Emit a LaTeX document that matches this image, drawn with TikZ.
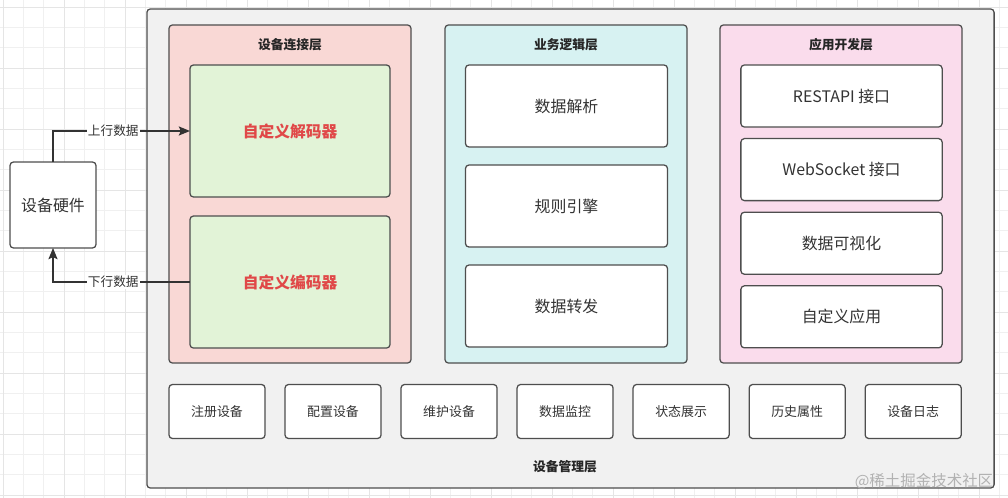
\documentclass[tikz,border=0pt]{standalone}
\usepackage{fontspec}
\setmainfont{Noto Sans CJK SC}
\usetikzlibrary{positioning,arrows.meta}

\definecolor{linegray}{HTML}{4E4E4E}
\definecolor{txtgray}{HTML}{333333}
\definecolor{mainfill}{HTML}{F1F1F1}
\definecolor{connfill}{HTML}{F9D8D5}
\definecolor{codecfill}{HTML}{E2F3D7}
\definecolor{bizfill}{HTML}{D7F2F2}
\definecolor{appfill}{HTML}{FADCEC}
\definecolor{redtxt}{HTML}{E04848}

\begin{document}
\begin{tikzpicture}[x=0.025cm, y=-0.025cm, line width=0.9pt,
    every node/.style={font=\fontsize{11.3}{13}\selectfont, text=txtgray},
    gridminor/.style={line width=0.4pt, black!6},
    gridmajor/.style={line width=0.5pt, black!10},
    box/.style={draw=linegray, rounded corners=2.5pt, inner sep=0pt, outer sep=0pt, fill=white},
    layer/.style={box, minimum width=6.05cm, minimum height=8.45cm},
    title/.style={font=\fontsize{9.1}{11}\selectfont\bfseries, text=black!85},
    codec/.style={box, fill=codecfill, minimum width=5cm, minimum height=3.3cm,
        font=\fontsize{11.2}{13}\selectfont\bfseries, text=redtxt},
    bizbox/.style={box, minimum width=5.05cm, minimum height=2.05cm},
    appbox/.style={box, minimum width=5.03cm, minimum height=1.55cm},
    mgmtbox/.style={box, minimum width=2.4cm, minimum height=1.35cm, font=\fontsize{9.2}{11}\selectfont},
    flowlabel/.style={fill=white, inner sep=1pt, font=\fontsize{9}{11}\selectfont},
    flow/.style={draw=black!80, -{Stealth[length=8pt,width=6.5pt,inset=1.5pt]}}]
  \useasboundingbox (0,0) rectangle (1008,498);

  % background grid
  \foreach \g in {0,...,49} {
    \draw[gridminor] ({3+20.33*\g},0) -- ({3+20.33*\g},498);
  }
  \foreach \g in {0,...,24} {
    \draw[gridminor] (0,{7+20.33*\g}) -- (1008,{7+20.33*\g});
  }
  \foreach \g in {0,...,16} {
    \draw[gridmajor] ({3+61*\g},0) -- ({3+61*\g},498);
  }
  \foreach \g in {0,...,8} {
    \draw[gridmajor] (0,{7+61*\g}) -- (1008,{7+61*\g});
  }

  % outer frame
  \node[box, fill=mainfill, minimum width=21.175cm, minimum height=11.975cm] (mgmt) at (570.5,248.5) {};
  \node[title] (mgmttitle) at (565,467) {设备管理层};

  % three layers
  \node[layer, fill=connfill] (conn) at (290,194) {};
  \node[layer, fill=bizfill] (biz) at (566,194) {};
  \node[layer, fill=appfill] (app) at (841,194) {};
  \node[title] (conntitle) at (290,45) {设备连接层};
  \node[title] (biztitle) at (566,45) {业务逻辑层};
  \node[title] (apptitle) at (841,45) {应用开发层};

  \node[codec] (decoder) at (290,131) {自定义解码器};
  \node[codec, below=0.475cm of decoder] (encoder) {自定义编码器};

  \node[bizbox] (parse) at (566.5,106) {数据解析};
  \node[bizbox, below=0.45cm of parse] (rules) {规则引擎};
  \node[bizbox, below=0.45cm of rules] (forward) {数据转发};

  \node[appbox] (rest) at (841.5,96) {RESTAPI 接口};
  \node[appbox, below=0.29cm of rest] (ws) {WebSocket 接口};
  \node[appbox, below=0.29cm of ws] (vis) {数据可视化};
  \node[appbox, below=0.29cm of vis] (custom) {自定义应用};

  % device management row
  \node[mgmtbox] (m1) at (217,411.5) {注册设备};
  \foreach \name/\txt [remember=\name as \prev (initially m1)] in
      {m2/配置设备, m3/维护设备, m4/数据监控, m5/状态展示, m6/历史属性, m7/设备日志} {
    \node[mgmtbox, right=0.5cm of \prev] (\name) {\txt};
  }

  % hardware and data flow
  \node[box, minimum width=2.15cm, minimum height=2.15cm] (hw) at (53,205) {设备硬件};
  \draw[flow] (hw.north) |- node[flowlabel, pos=0.72] {上行数据} (decoder.west);
  \draw[flow] (encoder.west) -| node[flowlabel, pos=0.28] {下行数据} (hw.south);

  \node[text=black!30, font=\fontsize{11}{13}\selectfont] (mark) at (924,481) {@稀土掘金技术社区};
\end{tikzpicture}
\end{document}
